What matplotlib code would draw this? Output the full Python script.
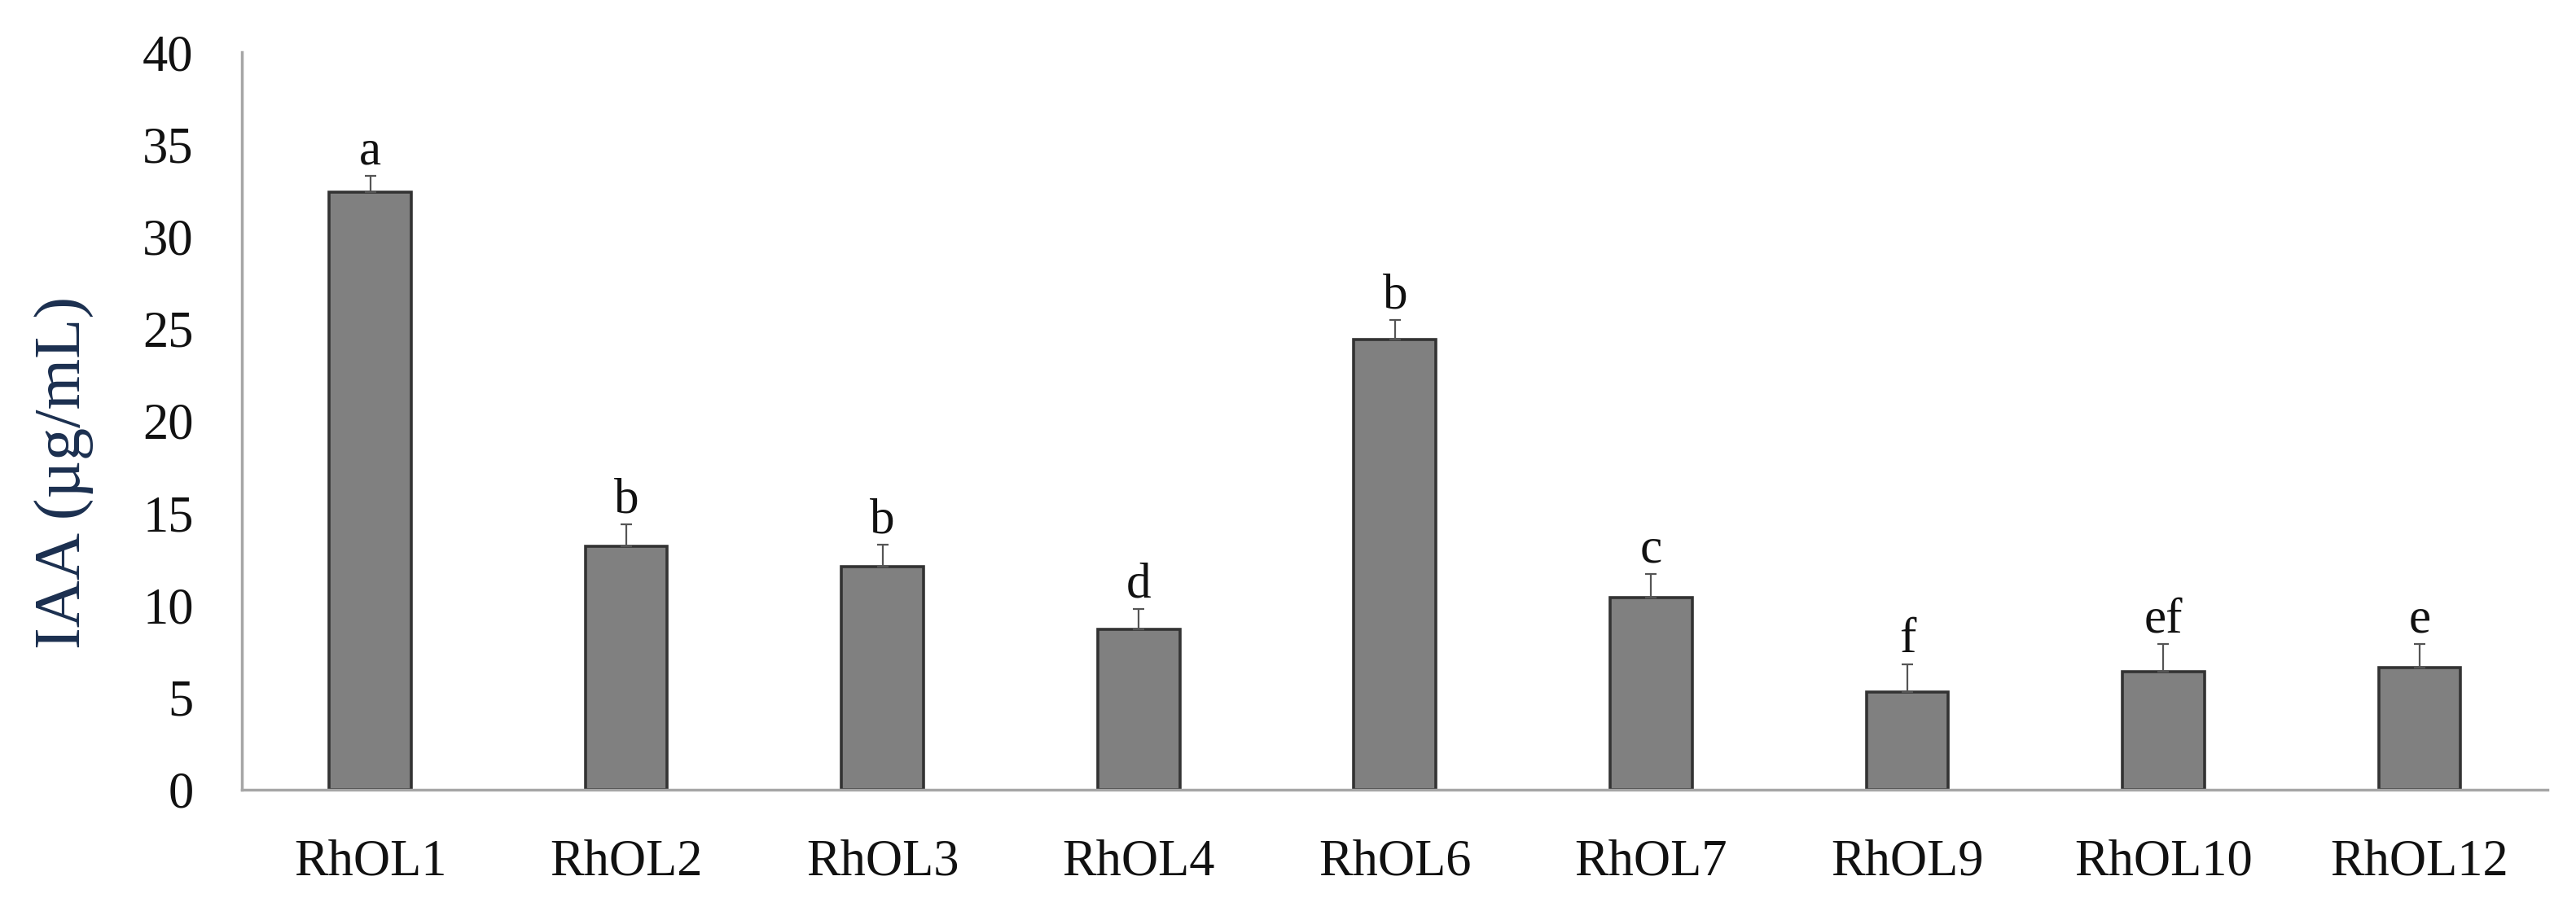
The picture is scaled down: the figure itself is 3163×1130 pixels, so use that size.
import numpy as np
import matplotlib.pyplot as plt

plt.rcParams['font.family'] = ['Liberation Serif', 'DejaVu Serif']

# 균주별 IAA 생산량
strains = ['RhOL1', 'RhOL2', 'RhOL3', 'RhOL4', 'RhOL6', 'RhOL7', 'RhOL9', 'RhOL10', 'RhOL12']
iaa = [32.4, 13.2, 12.1, 8.7, 24.4, 10.4, 5.3, 6.4, 6.6]
err = [0.9, 1.2, 1.2, 1.1, 1.1, 1.3, 1.5, 1.5, 1.3]
letters = ['a', 'b', 'b', 'd', 'b', 'c', 'f', 'ef', 'e']

fig = plt.figure(figsize=(31.63, 11.30), dpi=100)
ax = fig.add_axes([0.094, 0.142, 0.895, 0.801])

x = np.arange(len(strains))
ax.bar(x, iaa, width=0.32, color='#808080', edgecolor='#333333', linewidth=2.6,
       yerr=[np.zeros(len(err)), err], error_kw=dict(ecolor='#555555', elinewidth=1.6,
                                                     capsize=5, capthick=1.6))

# 유의성 문자
for xi, v, e, s in zip(x, iaa, err, letters):
    ax.annotate(s, (xi, v + e), xytext=(0, 1), textcoords='offset points',
                ha='center', va='bottom', fontsize=44, color='#111111')

ax.set_xlim(-0.5, 8.5)
ax.set_ylim(0, 40)
ax.set_yticks(np.arange(0, 41, 5))
ax.set_xticks(x)
ax.set_xticklabels(strains)
ax.tick_params(axis='both', length=0, labelsize=45, colors='#111111')
ax.tick_params(axis='y', pad=43)
ax.tick_params(axis='x', pad=44)

for s in ['top', 'right']:
    ax.spines[s].set_visible(False)
for s in ['left', 'bottom']:
    ax.spines[s].set_color('#a6a6a6')
    ax.spines[s].set_linewidth(2.5)

ax.set_ylabel('IAA (µg/mL)', fontsize=58, color='#1b2f4f')
ax.yaxis.set_label_coords(-0.064, 0.43)

fig.savefig('out.png', dpi=100)
